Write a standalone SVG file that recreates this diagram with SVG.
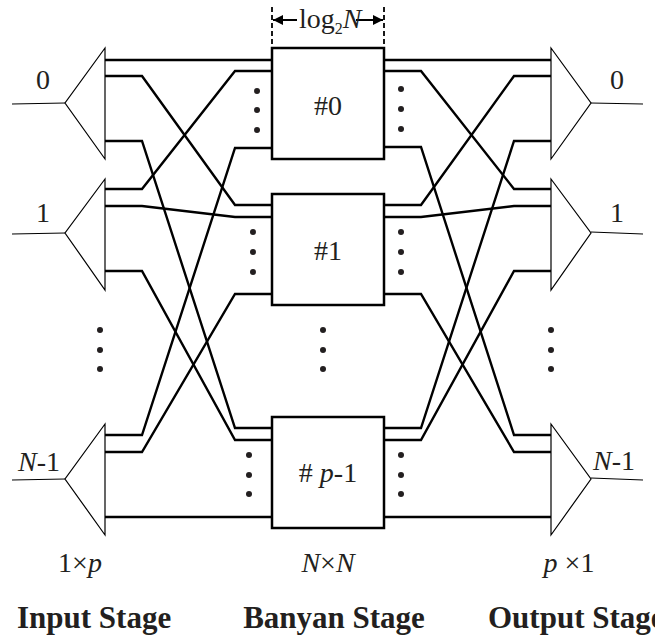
<svg xmlns="http://www.w3.org/2000/svg" width="655" height="637" viewBox="0 0 655 637">
<style>
.tri{fill:#fff;stroke:#000;stroke-width:1.2}
.io{stroke:#000;stroke-width:1.2;fill:none}
.box{fill:#fff;stroke:#000;stroke-width:2.5}
.w{fill:none;stroke:#000;stroke-width:2.4}
.dash{stroke:#000;stroke-width:1.8;stroke-dasharray:5,3}
.t{font-family:"Liberation Serif","Times New Roman",serif;font-size:28px;fill:#231f20}
.b{font-family:"Liberation Serif","Times New Roman",serif;font-size:31px;font-weight:bold;fill:#231f20}
.dot{fill:#231f20}
</style>
<defs>
<marker id="ah" viewBox="0 0 10 10" refX="10" refY="5" markerWidth="10" markerHeight="10" markerUnits="userSpaceOnUse" orient="auto">
<path d="M0,0 L10,5 L0,10 z" fill="#000"/>
</marker>
</defs>
<rect width="655" height="637" fill="#fff"/>
<g id="connectors">
<polyline class="w" points="105,60 272,60"/>
<polyline class="w" points="105,76 142,76 235,205 272,205"/>
<polyline class="w" points="105,141 142,141 235,428 272,428"/>
<polyline class="w" points="105,189 142,189 235,71 272,71"/>
<polyline class="w" points="105,206 142,206 235,217 272,217"/>
<polyline class="w" points="105,271 142,271 235,440 272,440"/>
<polyline class="w" points="105,435 142,435 235,148 272,148"/>
<polyline class="w" points="105,452 142,452 235,294 272,294"/>
<polyline class="w" points="105,517 272,517"/>
<polyline class="w" points="384,60 551,60"/>
<polyline class="w" points="384,71 421,71 514,189 551,189"/>
<polyline class="w" points="384,147 421,147 514,435 551,435"/>
<polyline class="w" points="384,205 421,205 514,76 551,76"/>
<polyline class="w" points="384,217 421,217 514,206 551,206"/>
<polyline class="w" points="384,294 421,294 514,452 551,452"/>
<polyline class="w" points="384,428 421,428 514,141 551,141"/>
<polyline class="w" points="384,440 421,440 514,271 551,271"/>
<polyline class="w" points="384,517 551,517"/>
</g>
<g id="in0">
<polygon class="tri" points="105,48 65,103 105,159"/>
<line class="io" x1="12" y1="104" x2="65" y2="103"/>
<text class="t" x="43" y="89" text-anchor="middle">0</text>
</g>
<g id="in1">
<polygon class="tri" points="105,179 65,233 105,290"/>
<line class="io" x1="12" y1="234" x2="65" y2="233"/>
<text class="t" x="43" y="222" text-anchor="middle">1</text>
</g>
<g id="inN1">
<polygon class="tri" points="105,424 65,479 105,535"/>
<line class="io" x1="12" y1="480" x2="65" y2="479"/>
<text class="t" x="39" y="471" text-anchor="middle"><tspan font-style="italic">N</tspan>-1</text>
</g>
<g id="out0">
<polygon class="tri" points="551,48 591,103 551,159"/>
<line class="io" x1="591" y1="103" x2="643" y2="104"/>
<text class="t" x="617" y="89" text-anchor="middle">0</text>
</g>
<g id="out1">
<polygon class="tri" points="551,179 591,233 551,290"/>
<line class="io" x1="591" y1="232" x2="643" y2="234"/>
<text class="t" x="617" y="222" text-anchor="middle">1</text>
</g>
<g id="outN1">
<polygon class="tri" points="551,424 591,479 551,535"/>
<line class="io" x1="591" y1="478" x2="643" y2="480"/>
<text class="t" x="614" y="470" text-anchor="middle"><tspan font-style="italic">N</tspan>-1</text>
</g>
<g id="box0">
<rect class="box" x="272" y="48" width="112" height="111"/>
<text class="t" x="328" y="115" text-anchor="middle" font-size="30">#0</text>
<circle class="dot" cx="257" cy="91" r="3"/><circle class="dot" cx="257" cy="110" r="3"/><circle class="dot" cx="257" cy="130" r="3"/>
<circle class="dot" cx="401" cy="89" r="3"/><circle class="dot" cx="401" cy="109" r="3"/><circle class="dot" cx="401" cy="129" r="3"/>
</g>
<g id="box1">
<rect class="box" x="272" y="194" width="112" height="111"/>
<text class="t" x="328" y="260" text-anchor="middle" font-size="30">#1</text>
<circle class="dot" cx="253" cy="232" r="3"/><circle class="dot" cx="253" cy="252" r="3"/><circle class="dot" cx="253" cy="272" r="3"/>
<circle class="dot" cx="401" cy="232" r="3"/><circle class="dot" cx="401" cy="252" r="3"/><circle class="dot" cx="401" cy="272" r="3"/>
</g>
<g id="boxp1">
<rect class="box" x="272" y="417" width="112" height="111"/>
<text class="t" x="328" y="482" text-anchor="middle" font-size="30"># <tspan font-style="italic">p</tspan>-1</text>
<circle class="dot" cx="249" cy="455" r="3"/><circle class="dot" cx="249" cy="475" r="3"/><circle class="dot" cx="249" cy="494" r="3"/>
<circle class="dot" cx="401" cy="455" r="3"/><circle class="dot" cx="401" cy="475" r="3"/><circle class="dot" cx="401" cy="494" r="3"/>
</g>
<g id="ellipsis">
<circle class="dot" cx="100" cy="330" r="3"/><circle class="dot" cx="100" cy="350" r="3"/><circle class="dot" cx="100" cy="369" r="3"/>
<circle class="dot" cx="323" cy="330" r="3"/><circle class="dot" cx="323" cy="350" r="3"/><circle class="dot" cx="323" cy="369" r="3"/>
<circle class="dot" cx="551" cy="330" r="3"/><circle class="dot" cx="551" cy="350" r="3"/><circle class="dot" cx="551" cy="369" r="3"/>
</g>
<g id="dimension">
<line class="dash" x1="272" y1="7" x2="272" y2="48"/>
<line class="dash" x1="384" y1="7" x2="384" y2="48"/>
<line x1="297" y1="20" x2="273" y2="20" stroke="#000" stroke-width="2" marker-end="url(#ah)"/>
<line x1="356" y1="20" x2="383" y2="20" stroke="#000" stroke-width="2" marker-end="url(#ah)"/>
<text class="t" x="299" y="28" font-size="25">log<tspan font-size="16" dy="6">2</tspan><tspan font-style="italic" dy="-6">N</tspan></text>
</g>
<g id="labels">
<text class="t" x="80" y="572" text-anchor="middle">1×<tspan font-style="italic">p</tspan></text>
<text class="t" x="328" y="572" text-anchor="middle"><tspan font-style="italic">N</tspan>×<tspan font-style="italic">N</tspan></text>
<text class="t" x="569" y="572" text-anchor="middle"><tspan font-style="italic">p</tspan> ×1</text>
<text class="b" x="17" y="628">Input Stage</text>
<text class="b" x="334" y="628" text-anchor="middle">Banyan Stage</text>
<text class="b" x="488" y="628">Output Stage</text>
</g>
</svg>
